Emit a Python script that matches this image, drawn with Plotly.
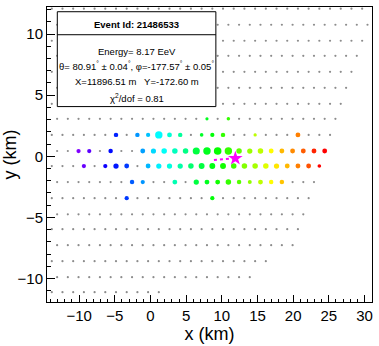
"""Surface detector footprint of a single air-shower event."""
import math
import plotly.graph_objects as go

# detector grid, one entry per row (km); stations spaced 1.5 km along each row
row_y = [12.07, 10.76, 9.45, 8.22, 6.91, 5.60, 4.29, 3.06, 1.75, 0.43,
         -0.80, -2.11, -3.43, -4.75, -5.96, -7.27, -8.58, -9.89, -11.12]
row_x0 = [-13.83, -13.08, -13.83, -13.08, -13.83, -13.08, -13.83, -13.08, -13.83, -13.08,
          -13.83, -13.08, -13.83, -13.08, -13.83, -13.08, -13.83, -13.08, -13.83]
row_n = [30, 30, 30, 29, 29, 28, 28, 27, 27, 26, 26, 25, 25, 24, 24, 23, 21, 19, 11]
spacing = 1.5

# triggered stations: position (km), relative arrival time (0 = first, 1 = last), signal (VEM)
hit_x = [7.92, 10.92,
         -4.83, -1.83, -0.33, 1.17, 2.67, 4.17, 7.17, 8.67, 10.17, 14.67, 20.67,
         -10.08, -8.58, -5.58, -1.08, 0.42, 1.92, 3.42, 4.92, 6.42, 7.92, 9.42, 10.92,
         12.42, 13.92, 15.42, 16.92, 18.42, 19.92, 21.42, 22.92, 24.42,
         -9.33, -6.33, -4.83, -3.33, -0.33, 1.17, 2.67, 4.17, 5.67, 7.17, 8.67, 10.17,
         11.67, 13.17, 14.67, 16.17, 17.67, 19.17, 20.67, 22.17, 23.67,
         -2.58, -1.08, 3.42, 6.42, 7.92, 9.42, 10.92, 12.42, 13.92, 15.42, 16.92, 18.42,
         -3.33, 8.67]
hit_y = [3.06, 3.06,
         1.75, 1.75, 1.75, 1.75, 1.75, 1.75, 1.75, 1.75, 1.75, 1.75, 1.75,
         0.43, 0.43, 0.43, 0.43, 0.43, 0.43, 0.43, 0.43, 0.43, 0.43, 0.43, 0.43,
         0.43, 0.43, 0.43, 0.43, 0.43, 0.43, 0.43, 0.43, 0.43,
         -0.80, -0.80, -0.80, -0.80, -0.80, -0.80, -0.80, -0.80, -0.80, -0.80, -0.80, -0.80,
         -0.80, -0.80, -0.80, -0.80, -0.80, -0.80, -0.80, -0.80, -0.80,
         -2.11, -2.11, -2.11, -2.11, -2.11, -2.11, -2.11, -2.11, -2.11, -2.11, -2.11, -2.11,
         -3.43, -3.43]
hit_t = [0.53, 0.60,
         0.14, 0.24, 0.28, 0.33, 0.37, 0.42, 0.52, 0.55, 0.60, 0.72, 0.89,
         0.00, 0.03, 0.12, 0.25, 0.30, 0.34, 0.39, 0.44, 0.50, 0.53, 0.56, 0.60,
         0.64, 0.69, 0.72, 0.78, 0.84, 0.88, 0.92, 0.97, 1.00,
         0.02, 0.10, 0.13, 0.16, 0.27, 0.32, 0.36, 0.41, 0.46, 0.50, 0.54, 0.57,
         0.61, 0.67, 0.70, 0.75, 0.80, 0.84, 0.89, 0.93, 1.00,
         0.19, 0.24, 0.40, 0.50, 0.53, 0.57, 0.60, 0.63, 0.68, 0.72, 0.78, 0.83,
         0.16, 0.55]
hit_vem = [1.5, 1.8,
           3.5, 3.5, 3, 25, 4.5, 3.5, 2, 3, 3.5, 1.6, 4.5,
           3, 3, 3.5, 4.5, 5.5, 7, 7, 7, 20, 25, 28, 25,
           7, 6, 7, 4.5, 4.5, 4.5, 4.5, 4.5, 4.5,
           3, 3, 6, 4.5, 4.5, 6, 6, 6, 7, 9, 9, 9,
           7, 7, 7, 7, 6, 4.5, 4.5, 4.5, 2,
           3.5, 3, 4.5, 6, 4.5, 4.5, 7, 3.5, 2.5, 4.5, 3.5, 3.5,
           3, 3]

# reconstruction
event_id = 21486533
energy = 8.17
theta, theta_err = 80.91, 0.04
phi, phi_err = -177.57, 0.05
core_x, core_y = 11896.51, -172.60  # m
chi2_ndof = 0.81
axis_len = 3.0  # km, length of drawn shower-axis projection

rainbow = [
    [0.000, '#8000ff'], [0.111, '#0000ff'], [0.222, '#0080ff'],
    [0.333, '#00ffff'], [0.444, '#00ff80'], [0.556, '#00ff00'],
    [0.667, '#80ff00'], [0.778, '#ffff00'], [0.889, '#ff8000'],
    [1.000, '#ff0000'],
]

grid_x, grid_y = [], []
for y, x0, n in zip(row_y, row_x0, row_n):
    for i in range(n):
        grid_x.append(x0 + spacing * i)
        grid_y.append(y)

hit_size = [2.6 + 1.5 * math.log(s) for s in hit_vem]

cx, cy = core_x / 1000, core_y / 1000
ax_x = [cx + axis_len * math.cos(math.radians(phi)), cx]
ax_y = [cy + axis_len * math.sin(math.radians(phi)), cy]

fig = go.Figure()
fig.add_trace(go.Scatter(
    x=grid_x, y=grid_y, mode='markers',
    marker=dict(size=2.2, color='#8c8c8c', opacity=1),
    hoverinfo='skip'
))
fig.add_trace(go.Scatter(
    x=hit_x, y=hit_y, mode='markers',
    marker=dict(size=hit_size, color=hit_t, colorscale=rainbow,
                cmin=0, cmax=1, opacity=1, line=dict(width=0)),
    hovertemplate='x=%{x} km<br>y=%{y} km<extra></extra>'
))
fig.add_trace(go.Scatter(
    x=ax_x, y=ax_y, mode='lines',
    line=dict(color='#ff00ff', width=2, dash='dot'),
    hoverinfo='skip'
))
fig.add_trace(go.Scatter(
    x=[cx], y=[cy], mode='markers',
    marker=dict(symbol='star', size=11, color='#ff00ff', opacity=1),
    hoverinfo='skip'
))

# info box
box = dict(x0=0.0317, x1=0.5196, y0=0.6624, y1=0.984)
fig.add_shape(type='rect', xref='paper', yref='paper', **box,
              fillcolor='white', line=dict(color='black', width=1), layer='above')
fig.add_shape(type='line', xref='paper', yref='paper',
              x0=box['x0'], x1=box['x1'], y0=0.906, y1=0.906,
              line=dict(color='black', width=1), layer='above')

xc = (box['x0'] + box['x1']) / 2
lines = [
    (f'<b>Event Id: {event_id}</b>', 0.9423),
    (f'Energy= {energy:.2f} EeV', 0.8492),
    (f'θ= {theta:.2f}<sup>°</sup> ± {theta_err:.2f}<sup>°</sup>, '
     f'φ={phi:.2f}<sup>°</sup> ± {phi_err:.2f}<sup>°</sup>', 0.7996),
    (f'X={core_x:.2f} m   Y={core_y:.2f} m', 0.7473),
    (f'χ<sup>2</sup>/dof = {chi2_ndof:.2f}', 0.6909),
]
for text, yy in lines:
    fig.add_annotation(text=text, xref='paper', yref='paper', x=xc, y=yy,
                       showarrow=False, xanchor='center', yanchor='middle',
                       font=dict(size=9.5, color='black'))

axis_style = dict(
    showgrid=False, zeroline=False, showline=True, mirror=True,
    linecolor='black', linewidth=1, ticks='inside', tickcolor='black',
    tickfont=dict(size=15, color='black'), automargin=False,
)

fig.update_xaxes(
    range=[-14.5, 31.05], dtick=5, ticklen=7,
    minor=dict(dtick=1, ticks='inside', ticklen=3.5, tickcolor='black'),
    title=dict(text='x (km)', font=dict(size=18, color='black'), standoff=4),
    **axis_style
)
fig.update_yaxes(
    range=[-11.92, 12.21], dtick=5, ticklen=8,
    minor=dict(dtick=1, ticks='inside', ticklen=4, tickcolor='black'),
    title=dict(text='y (km)', font=dict(size=18, color='black'), standoff=2),
    **axis_style
)

fig.update_layout(
    width=379, height=346,
    margin=dict(l=47, r=7, t=7, b=44),
    plot_bgcolor='white', paper_bgcolor='white',
    font=dict(family='Liberation Sans, Arial, sans-serif'),
    showlegend=False
)

# drop the page's default body margin so the figure sits at the window's corner
fig.write_html("out.html", config={'displayModeBar': False},
               post_script="document.body.style.margin='0';")
